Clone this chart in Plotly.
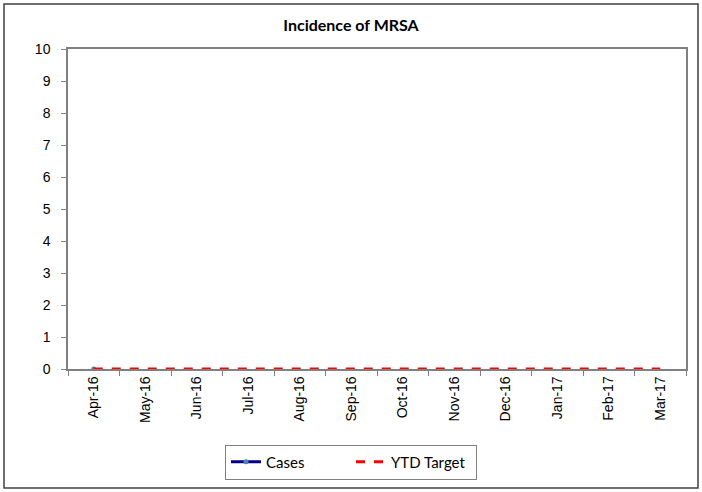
import plotly.graph_objects as go

# Monthly categories for the 2016/17 reporting year
months = ["Apr-16", "May-16", "Jun-16", "Jul-16", "Aug-16", "Sep-16",
          "Oct-16", "Nov-16", "Dec-16", "Jan-17", "Feb-17", "Mar-17"]

# Reported MRSA cases (only April reported so far)
cases_months = ["Apr-16"]
cases_values = [0]

# Year-to-date target for each month
ytd_target = [0, 0, 0, 0, 0, 0, 0, 0, 0, 0, 0, 0]

W, H = 702, 492
L, R, T, B = 68, 16, 49, 123
pw, ph = W - L - R, H - T - B

def px_x(x):
    return (x - L) / pw

def px_y(y):
    return (H - B - y) / ph

fig = go.Figure()

fig.add_trace(go.Scatter(
    x=cases_months, y=cases_values, name="Cases",
    mode="lines+markers",
    line=dict(color="#00008B", width=3),
    marker=dict(color="#4F81BD", size=5),
))

fig.add_trace(go.Scatter(
    x=months, y=ytd_target, name="YTD Target",
    mode="lines",
    line=dict(color="#FF0000", width=3, dash="dash"),
))

# Frame around the whole chart
fig.add_shape(
    type="rect", xref="paper", yref="paper",
    x0=px_x(4), x1=px_x(698), y0=px_y(488), y1=px_y(4),
    line=dict(color="#404040", width=1.5), fillcolor="rgba(0,0,0,0)",
    layer="below",
)

fig.update_layout(
    width=W, height=H,
    margin=dict(l=L, r=R, t=T, b=B),
    paper_bgcolor="white", plot_bgcolor="white",
    title=dict(
        text="<b>Incidence of MRSA</b>",
        x=0.5, xanchor="center", y=1 - 25 / H, yanchor="middle",
        font=dict(family="Lato, sans-serif", size=16, color="black"),
    ),
    showlegend=True,
    legend=dict(
        orientation="h",
        x=px_x(351), xanchor="center",
        y=px_y(462), yanchor="middle",
        bordercolor="#808080", borderwidth=1,
        font=dict(family="Lato, sans-serif", size=15, color="black"),
        entrywidth=80, entrywidthmode="pixels",
        tracegroupgap=0,
    ),
)

tick_font = dict(family="Liberation Sans", size=14, color="black")

fig.update_xaxes(
    type="category", categoryorder="array", categoryarray=months,
    range=[-0.5, len(months) - 0.5],
    tickson="boundaries",
    ticks="outside", ticklen=5, tickcolor="#808080",
    tickangle=-90,
    tickfont=tick_font,
    showline=True, linecolor="#808080", linewidth=1.5, mirror=True,
    showgrid=False, zeroline=False,
)

fig.update_yaxes(
    range=[0, 10], dtick=1, tick0=0,
    ticks="outside", ticklen=5, tickcolor="#808080",
    ticklabelstandoff=8,
    tickfont=tick_font,
    showline=True, linecolor="#808080", linewidth=1.5, mirror=True,
    showgrid=False, zeroline=False,
)

fig.write_html("out.html")
